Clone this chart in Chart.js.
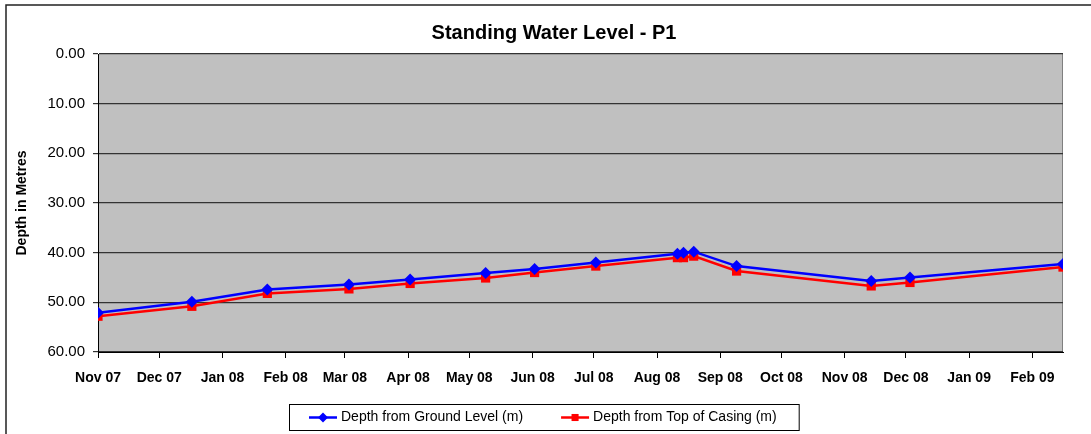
<!DOCTYPE html>
<html>
<head>
<meta charset="utf-8">
<script src="https://cdn.jsdelivr.net/npm/chart.js@4.4.0/dist/chart.umd.min.js"></script>
<style>
  html, body { margin: 0; padding: 0; background: #fff; }
  #wrap { width: 1091px; height: 434px; }
</style>
</head>
<body>
<div id="wrap"><canvas id="waterChart"></canvas></div>
<script>
// readings (dates of the dips)
var sampleDates = ['2007-11-01', '2007-12-17', '2008-01-23', '2008-03-03', '2008-04-02',
    '2008-05-09', '2008-06-02', '2008-07-02', '2008-08-11', '2008-08-14', '2008-08-19',
    '2008-09-09', '2008-11-14', '2008-12-03', '2009-02-16'];
var groundLevel = [52.1, 49.9, 47.4, 46.4, 45.4, 44.1, 43.3, 42.0, 40.2, 40.0, 39.8, 42.7, 45.7, 45.0, 42.3];
var topOfCasing = [52.8, 50.8, 48.2, 47.3, 46.2, 45.1, 44.0, 42.7, 41.0, 41.0, 40.7, 43.7, 46.7, 46.0, 42.9];

var monthTicks = ['2007-11-01', '2007-12-01', '2008-01-01', '2008-02-01', '2008-03-01', '2008-04-01',
    '2008-05-01', '2008-06-01', '2008-07-01', '2008-08-01', '2008-09-01', '2008-10-01',
    '2008-11-01', '2008-12-01', '2009-01-01', '2009-02-01'];
var monthNames = ['Jan', 'Feb', 'Mar', 'Apr', 'May', 'Jun', 'Jul', 'Aug', 'Sep', 'Oct', 'Nov', 'Dec'];
var depthTicks = [0, 10, 20, 30, 40, 50, 60];

var chartTitle = 'Standing Water Level - P1';
var yTitle = 'Depth in Metres';

var startMs = Date.parse(sampleDates[0].slice(0, 8) + '01');
function toDay(s) {
    return Math.round((Date.parse(s) - startMs) / 86400000);
}
function monthLabel(day) {
    var d = new Date(startMs + day * 86400000);
    return monthNames[d.getUTCMonth()] + ' ' + String(d.getUTCFullYear()).slice(2);
}
function points(vals) {
    return vals.map(function (v, i) { return { x: toDay(sampleDates[i]), y: v }; });
}

var FONT = "'Liberation Sans', Arial, sans-serif";

var excelFrame = {
    id: 'excelFrame',
    beforeDraw: function (chart) {
        var ctx = chart.ctx, a = chart.chartArea;
        ctx.save();
        ctx.fillStyle = '#fff';
        ctx.fillRect(0, 0, chart.width, chart.height);
        ctx.strokeStyle = '#222';
        ctx.lineWidth = 1.5;
        ctx.strokeRect(6, 5, chart.width + 20, chart.height + 20);
        ctx.fillStyle = '#c0c0c0';
        ctx.fillRect(a.left, a.top, a.right - a.left, a.bottom - a.top);
        ctx.strokeStyle = '#808080';
        ctx.lineWidth = 1;
        ctx.beginPath();
        ctx.moveTo(a.right - 0.5, a.top);
        ctx.lineTo(a.right - 0.5, a.bottom);
        ctx.stroke();
        ctx.restore();
    },
    afterDraw: function (chart) {
        var ctx = chart.ctx;
        ctx.save();
        // title
        ctx.fillStyle = '#000';
        ctx.font = 'bold 20px ' + FONT;
        ctx.textAlign = 'center';
        ctx.textBaseline = 'middle';
        ctx.fillText(chartTitle, 554, 33);
        // legend
        ctx.font = '14px ' + FONT;
        var sets = chart.data.datasets;
        var sampleW = 28, gap = 4, itemGap = 38;
        var widths = sets.map(function (ds) { return sampleW + gap + ctx.measureText(ds.label).width; });
        var total = widths[0] + widths[1] + itemGap;
        var boxW = total + 42, boxX = Math.round(543.5 - boxW / 2), boxY = 404, boxH = 26;
        ctx.fillStyle = '#fff';
        ctx.fillRect(boxX, boxY, boxW, boxH);
        ctx.strokeStyle = '#000';
        ctx.lineWidth = 1;
        ctx.strokeRect(boxX + 0.5, boxY + 0.5, boxW, boxH);
        var x = boxX + 20, y = boxY + boxH / 2 + 0.5;
        sets.forEach(function (ds, i) {
            ctx.strokeStyle = ds.borderColor;
            ctx.lineWidth = 2.5;
            ctx.beginPath();
            ctx.moveTo(x, y);
            ctx.lineTo(x + sampleW, y);
            ctx.stroke();
            ctx.fillStyle = ds.borderColor;
            Chart.helpers.drawPoint(ctx, {
                pointStyle: ds.pointStyle, radius: 5, rotation: 0, borderWidth: 0
            }, x + sampleW / 2, y);
            ctx.fillStyle = '#000';
            ctx.textAlign = 'left';
            ctx.fillText(ds.label, x + sampleW + gap, y);
            x += widths[i] + itemGap;
        });
        ctx.restore();
    }
};

var ctx = document.getElementById('waterChart').getContext('2d');
var waterChart = new Chart(ctx, {
    type: 'line',
    data: {
        datasets: [
            {
                label: 'Depth from Ground Level (m)',
                data: points(groundLevel),
                borderColor: '#0000ff',
                backgroundColor: '#0000ff',
                borderWidth: 2.5,
                pointStyle: 'rectRot',
                pointRadius: 6,
                pointBorderWidth: 0,
                tension: 0
            },
            {
                label: 'Depth from Top of Casing (m)',
                data: points(topOfCasing),
                borderColor: '#ff0000',
                backgroundColor: '#ff0000',
                borderWidth: 2.5,
                pointStyle: 'rect',
                pointRadius: 6.5,
                pointBorderWidth: 0,
                tension: 0
            }
        ]
    },
    options: {
        responsive: true,
        maintainAspectRatio: false,
        animation: false,
        layout: { padding: { top: 54, right: 28, left: 0, bottom: 0 } },
        plugins: {
            legend: { display: false },
            title: { display: false },
            tooltip: { enabled: false }
        },
        scales: {
            x: {
                type: 'linear',
                min: 0,
                max: toDay(sampleDates[sampleDates.length - 1]),
                afterBuildTicks: function (scale) {
                    scale.ticks = monthTicks.map(function (m) { return { value: toDay(m) }; });
                },
                afterFit: function (scale) { scale.height = 82; },
                grid: { drawOnChartArea: false, drawTicks: true, tickLength: 6, color: '#000' },
                border: { color: '#000', width: 1 },
                ticks: {
                    autoSkip: false,
                    maxRotation: 0,
                    padding: 12,
                    color: '#000',
                    font: { family: FONT, size: 14, weight: 'bold' },
                    callback: function (v) { return monthLabel(v); }
                }
            },
            y: {
                reverse: true,
                min: depthTicks[0],
                max: depthTicks[depthTicks.length - 1],
                afterBuildTicks: function (scale) {
                    scale.ticks = depthTicks.map(function (v) { return { value: v }; });
                },
                afterFit: function (scale) { scale.width = 98; },
                grid: { color: '#333333', lineWidth: 1.2, tickLength: 5 },
                border: { color: '#000', width: 1 },
                title: {
                    display: true,
                    text: yTitle,
                    color: '#000',
                    font: { family: FONT, size: 14, weight: 'bold' },
                    padding: { top: 14, bottom: 0 }
                },
                ticks: {
                    padding: 8,
                    color: '#000',
                    font: { family: FONT, size: 15 },
                    callback: function (v) { return v.toFixed(2); }
                }
            }
        }
    },
    plugins: [excelFrame]
});
</script>
</body>
</html>
